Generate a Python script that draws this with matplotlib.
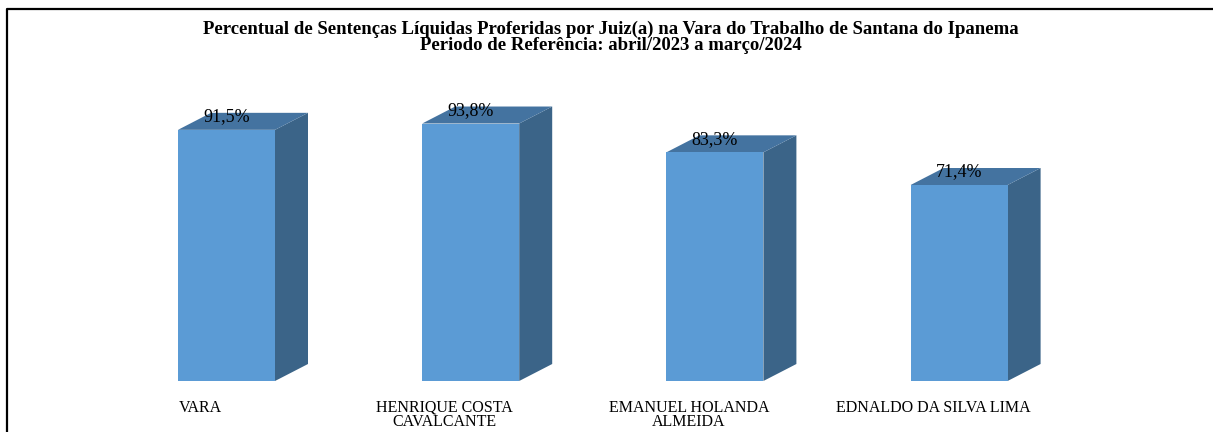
import matplotlib
matplotlib.use('Agg')
import matplotlib.pyplot as plt
from matplotlib.patches import Polygon
from matplotlib.lines import Line2D

# data
categories = ['VARA', 'HENRIQUE COSTA\nCAVALCANTE', 'EMANUEL HOLANDA\nALMEIDA', 'EDNALDO DA SILVA LIMA']
values = [91.5, 93.8, 83.3, 71.4]
value_labels = ['91,5%', '93,8%', '83,3%', '71,4%']
title_lines = ['Percentual de Sentenças Líquidas Proferidas por Juiz(a) na Vara do Trabalho de Santana do Ipanema',
               'Periodo de Referência: abril/2023 a março/2024']

front_color = '#5B9BD5'
top_color = '#4473A0'
side_color = '#3B6488'

W, H = 1213, 432
fig = plt.figure(figsize=(W / 100, H / 100), dpi=100)
ax = fig.add_axes([0, 0, 1, 1])

# pixel geometry of the reference -> data units
px_per_cat = 244.2
px_per_pct = 2.745
x0_px, base_px = 226.5, 381
ax.set_xlim(-x0_px / px_per_cat, (W - x0_px) / px_per_cat)
ax.set_ylim(-(H - base_px) / px_per_pct, base_px / px_per_pct)
ax.axis('off')

bar_w = 97 / px_per_cat
dx = 33 / px_per_cat
dy = 17 / px_per_pct

for i, v in enumerate(values):
    left, right = i - bar_w / 2, i + bar_w / 2
    # side face
    ax.add_patch(Polygon([(right, 0), (right + dx, dy), (right + dx, v + dy), (right, v)],
                         closed=True, facecolor=side_color, edgecolor='none', zorder=2))
    # top face
    ax.add_patch(Polygon([(left, v), (left + dx, v + dy), (right + dx, v + dy), (right, v)],
                         closed=True, facecolor=top_color, edgecolor='none', zorder=2))
ax.bar(range(len(values)), values, width=bar_w, color=front_color, zorder=3)

for i, (v, lab) in enumerate(zip(values, value_labels)):
    ax.text(i, v + 13 / px_per_pct, lab, ha='center', va='center', fontsize=13,
            family='Liberation Serif', color='black', zorder=4)

for i, cat in enumerate(categories):
    ax.text(i - 26 / px_per_cat, -19 / px_per_pct, cat, ha='center', va='top', fontsize=11.5,
            family='Liberation Serif', color='black', linespacing=0.85, multialignment='center')

fig.text(611 / W, 1 - 29 / H, title_lines[0], ha='center', va='center', fontsize=13.5,
         family='Liberation Serif', fontweight='bold')
fig.text(611 / W, 1 - 45 / H, title_lines[1], ha='center', va='center', fontsize=13.5,
         family='Liberation Serif', fontweight='bold')

# frame (top and left edges visible)
fig.add_artist(Line2D([6.5 / W, 6.5 / W, 1], [0, 1 - 8.5 / H, 1 - 8.5 / H],
                      transform=fig.transFigure, color='black', lw=1.6))

fig.savefig('out.png', dpi=100)
